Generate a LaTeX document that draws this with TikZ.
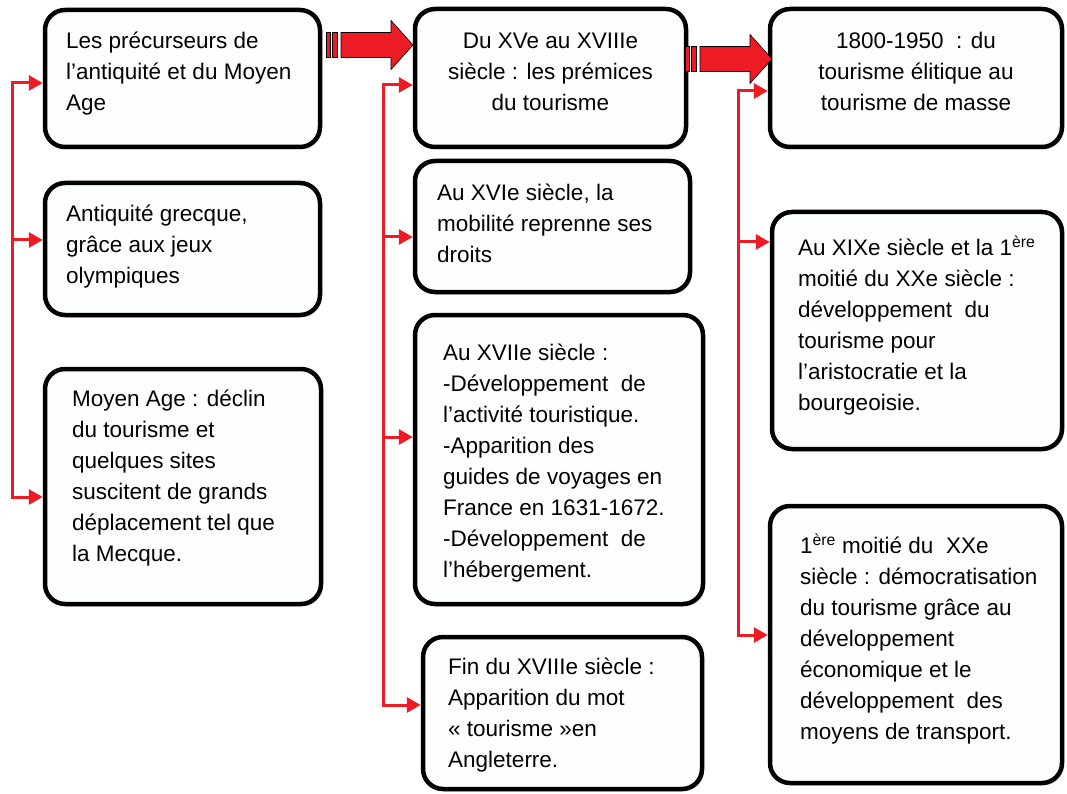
\documentclass[tikz,border=0pt]{standalone}
\usepackage{fontspec}
\setmainfont{Liberation Sans}
\usetikzlibrary{arrows.meta,shadows}
\definecolor{arrred}{RGB}{237,28,36}
\definecolor{boxfill}{RGB}{253,255,255}
\tikzset{
  stripedarrow/.pic={
    \path[draw=black, line width=0.6pt, fill=arrred] (0,-12.5) rectangle (4.5,12.5) (6.5,-12.5) rectangle (11,12.5);
    \path[draw=black, line width=0.6pt, fill=arrred] (15,-12.5) -- (65,-12.5) -- (65,-24.5) -- (87,0) -- (65,24.5) -- (65,12.5) -- (15,12.5) -- cycle;
  }
}
\begin{document}
\begin{tikzpicture}[x=1pt,y=-1pt,
  box/.style={draw=black, line width=4.5pt, rounded corners=20pt, fill=boxfill, inner sep=0pt,
    drop shadow={shadow xshift=2pt, shadow yshift=-2.5pt, fill=black!22}},
  txt/.style={inner sep=0pt, font=\fontsize{22.5}{31}\selectfont, align=left, anchor=north west},
  ctxt/.style={txt, align=center, anchor=north},
  conn/.style={draw=arrred, line width=3pt, -{Triangle[length=14pt,width=15pt]}},
  conn2/.style={draw=arrred, line width=3pt, {Triangle[length=14pt,width=15pt]}-{Triangle[length=14pt,width=15pt]}}
]
\useasboundingbox (0,0) rectangle (1067,794);
\fill[white] (0,0) rectangle (1067,794);

% boxes
\node[box, minimum width=275pt, minimum height=137pt] (L1) at (182.5,78.5) {};
\node[box, minimum width=275pt, minimum height=132pt] (L2) at (182.5,249) {};
\node[box, minimum width=276pt, minimum height=235pt] (L3) at (183,486.5) {};
\node[box, minimum width=271pt, minimum height=138pt] (M1) at (550.5,78) {};
\node[box, minimum width=275pt, minimum height=131pt] (M2) at (552.5,226.5) {};
\node[box, minimum width=288pt, minimum height=289pt] (M3) at (559,459.5) {};
\node[box, minimum width=279pt, minimum height=152pt] (M4) at (562.5,713) {};
\node[box, minimum width=292pt, minimum height=138pt] (R1) at (916,78) {};
\node[box, minimum width=290pt, minimum height=237pt] (R2) at (917,330.5) {};
\node[box, minimum width=292pt, minimum height=277pt] (R3) at (916,644.5) {};

% texts
\node[txt] (tL1) at (66,26.3) {\strut Les précurseurs de\\l’antiquité et du Moyen\\Age};
\node[txt] (tL2) at (66,199.3) {\strut Antiquité grecque,\\grâce aux jeux\\olympiques};
\node[txt] (tL3) at (72,384.3) {\strut Moyen Age : déclin\\du tourisme et\\quelques sites\\suscitent de grands\\déplacement tel que\\la Mecque.};
\node[ctxt] (tM1) at (550.5,26.3) {\strut Du XVe au XVIIIe\\siècle : les prémices\\du tourisme};
\node[txt] (tM2) at (437,178.3) {\strut Au XVIe siècle, la\\mobilité reprenne ses\\droits};
\node[txt] (tM3) at (443,338.3) {\strut Au XVIIe siècle :\\-Développement\ \ de\\l’activité touristique.\\-Apparition des\\guides de voyages en\\France en 1631-1672.\\-Développement\ \ de\\l’hébergement.};
\node[txt] (tM4) at (448,652.3) {\strut Fin du XVIIIe siècle :\\Apparition du mot\\« tourisme »en\\Angleterre.};
\node[ctxt] (tR1) at (916,26.3) {\strut 1800-1950\ \ : du\\tourisme élitique au\\tourisme de masse};
\node[txt] (tR2) at (798,233.3) {\strut Au XIXe siècle et la 1\textsuperscript{ère}\\moitié du XXe siècle :\\développement\ \ du\\tourisme pour\\l’aristocratie et la\\bourgeoisie.};
\node[txt] (tR3) at (800,531.3) {\strut 1\textsuperscript{ère} moitié du\ \ XXe\\siècle : démocratisation\\du tourisme grâce au\\développement\\économique et le\\développement\ \ des\\moyens de transport.};

% striped block arrows
\pic at (326,45) {stripedarrow};
\pic at (685,59) {stripedarrow};

% red connectors
\coordinate (jL1) at (12,83);
\coordinate (jL2) at (12,240);
\coordinate (jL3) at (12,497);
\draw[conn2] (jL1 -| L1.west) -- (jL1) -- (jL3) -- (jL3 -| L3.west);
\draw[conn] (jL2) -- (jL2 -| L2.west);

\coordinate (jM1) at (383,85);
\coordinate (jM2) at (383,237);
\coordinate (jM3) at (383,437);
\coordinate (jM4) at (383,705);
\draw[conn2] (jM1 -| M1.west) -- (jM1) -- (jM4) -- (jM4 -| M4.west);
\draw[conn] (jM2) -- (jM2 -| M2.west);
\draw[conn] (jM3) -- (jM3 -| M3.west);

\coordinate (jR1) at (738,91);
\coordinate (jR2) at (738,242);
\coordinate (jR3) at (738,635);
\draw[conn2] (jR1 -| R1.west) -- (jR1) -- (jR3) -- (jR3 -| R3.west);
\draw[conn] (jR2) -- (jR2 -| R2.west);
\end{tikzpicture}
\end{document}
